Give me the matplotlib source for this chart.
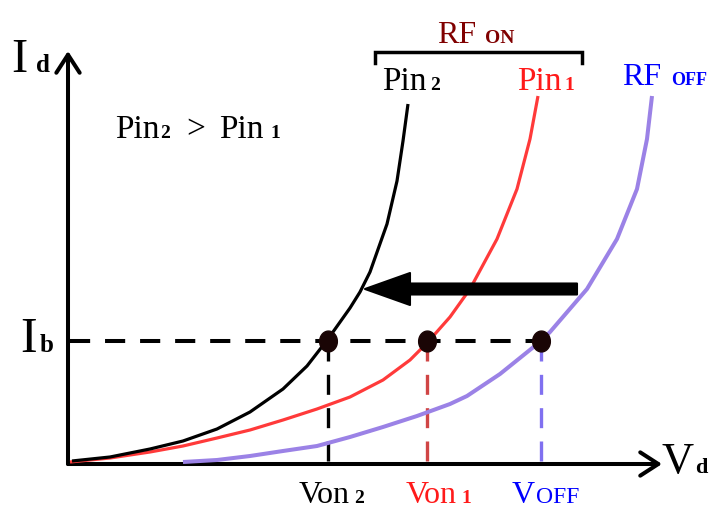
import matplotlib
matplotlib.use('Agg')
import matplotlib.pyplot as plt
from matplotlib.patches import FancyArrow
from matplotlib.path import Path
from matplotlib import font_manager as fm
import numpy as np

# ---- data (V in drawing units, I in drawing units) ----
pin2_v = [4, 42, 82, 115, 149, 182, 215, 239, 260, 282, 292, 302, 319, 329, 335, 340]
pin2_i = [3, 7, 15, 23, 35, 52, 75, 98, 125, 156, 172, 192, 240, 283, 323, 360]

pin1_v = [2, 42, 82, 115, 149, 182, 215, 249, 282, 315, 342, 359, 382, 402, 429, 449, 462, 470]
pin1_i = [2, 6, 12, 18, 26, 34, 44, 55, 67, 84, 104, 121, 147, 175, 225, 275, 325, 368]

off_v = [115, 149, 182, 215, 249, 282, 315, 349, 382, 399, 432, 473, 482, 519, 549, 569, 579, 584]
off_i = [2, 4, 8, 13, 18, 27, 37, 48, 60, 68, 90, 123, 132, 175, 225, 275, 325, 368]

ib = 123
von_points = [260, 359, 473]          # Von2, Von1, VOFF
von_colors = ['black', '#d04545', '#8070f0']
shift_arrow = [509, 297, 175]         # from V, to V, at I
v_max, i_max = 594, 413

names = {f.name for f in fm.fontManager.ttflist}
SERIF = 'STIXGeneral'
for cand in ['Liberation Serif', 'Times New Roman', 'Nimbus Roman']:
    if cand in names:
        SERIF = cand
        break

fig = plt.figure(figsize=(7.2, 5.1), dpi=100)
ax = fig.add_axes([0, 0, 1, 1])
ax.set_xlim(-68, 652)
ax.set_ylim(-45, 465)
ax.axis('off')

# axes arrows
for xy in [(0, i_max), (v_max, 0)]:
    ax.annotate('', xy=xy, xytext=(0, 0),
                arrowprops=dict(arrowstyle='->,head_length=0.65,head_width=0.42',
                                lw=2.9, color='black', shrinkA=0, shrinkB=0,
                                mutation_scale=20))

# curves
ax.plot(off_v, off_i, color='#9b82e6', lw=2.9, solid_capstyle='butt',
        solid_joinstyle='round', zorder=3)
ax.plot(pin1_v, pin1_i, color='#ff3a3a', lw=2.3, solid_capstyle='butt',
        solid_joinstyle='round', zorder=3)
ax.plot(pin2_v, pin2_i, color='black', lw=2.3, solid_capstyle='butt',
        solid_joinstyle='round', zorder=3)

# Ib dashed line
ax.plot([2, von_points[-1]], [ib, ib], color='black', lw=2.9,
        linestyle=(0, (5, 3.7)), zorder=2)
# vertical dashed lines
for v, c in zip(von_points, von_colors):
    ax.plot([v, v], [ib, 0], color=c, lw=2.4, linestyle=(0.0, (6, 4)), zorder=2)

# dots (slightly tall ellipses)
t = np.linspace(0, 2 * np.pi, 60)
ell = Path(np.column_stack([0.85 * np.cos(t), np.sin(t)]))
ax.plot(von_points, [ib] * 3, linestyle='none', marker=ell, ms=15,
        color='#1a0505', zorder=5)

# big shift arrow
ax.add_patch(FancyArrow(shift_arrow[0], shift_arrow[2],
                        shift_arrow[1] - shift_arrow[0], 0,
                        width=11, head_width=32, head_length=45,
                        length_includes_head=True, color='black',
                        joinstyle='round', lw=1.5, zorder=6))

# bracket for RF ON
bx0, bx1, by0, by1 = 307, 514, 412, 401
ax.plot([bx0, bx0, bx1, bx1], [by1, by0, by0, by1], color='black', lw=2.5,
        solid_joinstyle='miter', zorder=4)


def T(px, py, s, size, color='black', bold=False):
    ax.text(px - 68, 465 - py, s, fontsize=size, color=color,
            fontweight='bold' if bold else 'normal', family=SERIF,
            ha='left', va='baseline')


# axis labels
T(11, 72, 'I', 35)
T(36, 72, 'd', 18, bold=True)
T(20, 352, 'I', 36)
T(40, 352, 'b', 18, bold=True)
T(661, 473, 'V', 32)
T(695, 473, 'd', 16, bold=True)

# Pin2 > Pin1
T(115, 138, 'Pin', 24)
T(160, 138, '2', 14, bold=True)
T(186, 138, '>', 24)
T(219, 138, 'Pin', 24)
T(270, 138, '1', 14, bold=True)

# curve labels
T(382, 90, 'Pin', 24)
T(430, 90, '2', 14, bold=True)
T(517, 90, 'Pin', 24, color='#ff1a1a')
T(564, 90, '1', 14, color='#ff1a1a', bold=True)

T(437, 43, 'RF', 23, color='#800000')
T(485, 43, 'ON', 14, color='#800000', bold=True)
T(622, 85, 'RF', 23, color='#0000ff')
T(671, 85, 'OFF', 13, color='#0000ff', bold=True)

# V labels
T(299, 503, 'Von', 23)
T(354, 503, '2', 14, bold=True)
T(406, 503, 'Von', 23, color='#ff1a1a')
T(461, 503, '1', 14, color='#ff1a1a', bold=True)
T(512, 503, 'V', 23, color='#0000ff')
T(536, 503, 'OFF', 17, color='#0000ff')

fig.savefig('out.png', dpi=100)
